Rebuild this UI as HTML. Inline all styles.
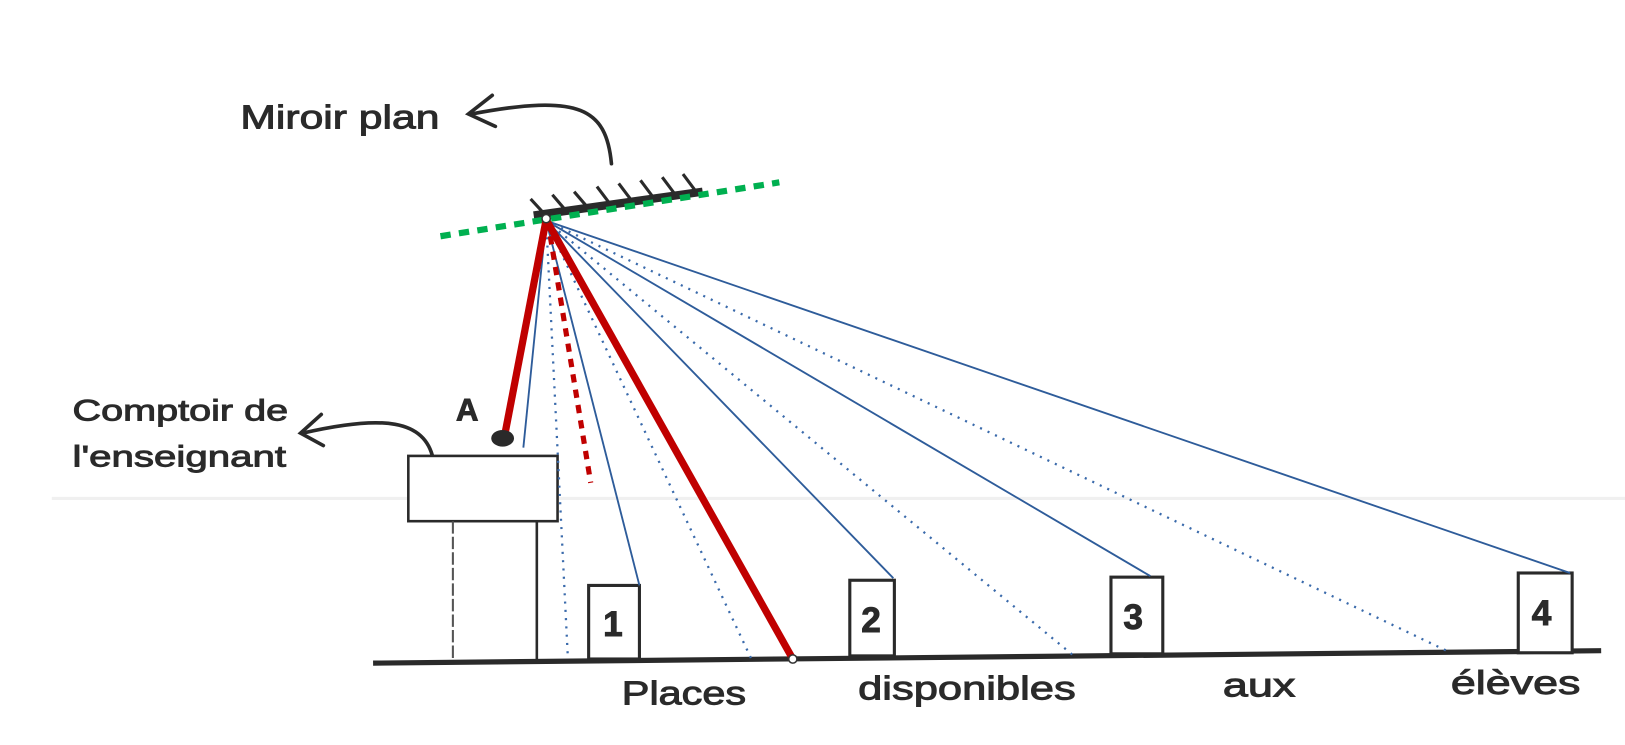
<!DOCTYPE html>
<html><head><meta charset="utf-8"><style>
html,body{margin:0;padding:0;background:#fff;width:1625px;height:745px;overflow:hidden}
svg{display:block}
text{font-family:"Liberation Sans",sans-serif;fill:#2a2a2a;stroke:#2a2a2a;stroke-width:0.9}
</style></head><body>
<svg width="1625" height="745" viewBox="0 0 1568 719" preserveAspectRatio="none">
<rect width="1568" height="719" fill="#fff"/>
<line x1="50" y1="481" x2="1568" y2="481" stroke="#f0f0f0" stroke-width="3"/>
<!-- texts -->
<text x="232" y="124" font-size="32" textLength="192" lengthAdjust="spacingAndGlyphs">Miroir plan</text>
<text x="70" y="406" font-size="29" textLength="208" lengthAdjust="spacingAndGlyphs">Comptoir de</text>
<text x="70" y="450" font-size="29" textLength="206" lengthAdjust="spacingAndGlyphs">l'enseignant</text>
<text x="440" y="406" font-size="30" font-weight="bold">A</text>
<text x="600" y="680" font-size="32" textLength="120" lengthAdjust="spacingAndGlyphs">Places</text>
<text x="828" y="675" font-size="32" textLength="210" lengthAdjust="spacingAndGlyphs">disponibles</text>
<text x="1180" y="672" font-size="32" textLength="70" lengthAdjust="spacingAndGlyphs">aux</text>
<text x="1400" y="670" font-size="32" textLength="125" lengthAdjust="spacingAndGlyphs">élèves</text>
<!-- curved arrows -->
<g fill="none" stroke="#2a2a2a" stroke-width="3.5" stroke-linecap="round">
<path d="M590 158 C585 105 560 90 455 110"/>
<path d="M475 92 L452 110 L478 122"/>
<path d="M418 443 C410 405 370 400 292 418"/>
<path d="M310 400 L290 418 L312 430"/>
</g>
<!-- mirror -->
<line x1="515" y1="208" x2="678" y2="185" stroke="#2a2a2a" stroke-width="8"/>
<g stroke="#2a2a2a" stroke-width="3">
<line x1="512" y1="192" x2="524" y2="205"/>
<line x1="533" y1="188" x2="545" y2="202"/>
<line x1="554" y1="185" x2="566" y2="199"/>
<line x1="576" y1="180" x2="588" y2="196"/>
<line x1="597" y1="177" x2="609" y2="193"/>
<line x1="618" y1="174" x2="630" y2="190"/>
<line x1="639" y1="171" x2="651" y2="187"/>
<line x1="659" y1="168" x2="671" y2="184"/>
</g>
<line x1="425" y1="228" x2="752" y2="176" stroke="#00b050" stroke-width="6" stroke-dasharray="10,8"/>
<!-- ground -->
<line x1="360" y1="640" x2="1545" y2="628" stroke="#2a2a2a" stroke-width="5"/>
<!-- counter -->
<rect x="394" y="440" width="144" height="63" fill="#fff" stroke="#2a2a2a" stroke-width="2.5"/>
<line x1="437" y1="503" x2="437" y2="636" stroke="#555" stroke-width="2" stroke-dasharray="12,3"/>
<line x1="518" y1="503" x2="518" y2="636" stroke="#2a2a2a" stroke-width="2.5"/>
<!-- boxes -->
<g fill="#fff" stroke="#2a2a2a" stroke-width="3">
<rect x="568" y="565" width="49" height="71"/>
<rect x="820" y="560" width="43" height="73"/>
<rect x="1072" y="557" width="50" height="74"/>
<rect x="1465" y="553" width="52" height="77"/>
</g>
<g font-size="34" font-weight="bold">
<text x="582" y="614">1</text>
<text x="831" y="610">2</text>
<text x="1084" y="607">3</text>
<text x="1478" y="603">4</text>
</g>
<!-- blue rays -->
<g stroke="#2e5c9a" stroke-width="1.8" fill="none">
<line x1="527" y1="213" x2="505" y2="432"/>
<line x1="527" y1="213" x2="617" y2="565"/>
<line x1="527" y1="213" x2="862" y2="558"/>
<line x1="527" y1="213" x2="1110" y2="556"/>
<line x1="527" y1="213" x2="1515" y2="553"/>
</g>
<g stroke="#3a6aab" stroke-width="2.2" fill="none" stroke-dasharray="2,6">
<line x1="527" y1="213" x2="548" y2="636"/>
<line x1="527" y1="213" x2="725" y2="636"/>
<line x1="527" y1="213" x2="1035" y2="632"/>
<line x1="527" y1="213" x2="1400" y2="630"/>
</g>
<!-- red -->
<line x1="527" y1="212" x2="487" y2="420" stroke="#c00000" stroke-width="7"/>
<line x1="527" y1="212" x2="765" y2="636" stroke="#c00000" stroke-width="7"/>
<line x1="531" y1="228" x2="570" y2="466" stroke="#c00000" stroke-width="5" stroke-dasharray="8,7"/>
<ellipse cx="485" cy="423" rx="11" ry="8" fill="#2a2a2a"/>
<circle cx="527" cy="211" r="4" fill="#fff" stroke="#333" stroke-width="1.5"/>
<circle cx="765" cy="636" r="4" fill="#fff" stroke="#333" stroke-width="1.5"/>
</svg>
</body></html>
